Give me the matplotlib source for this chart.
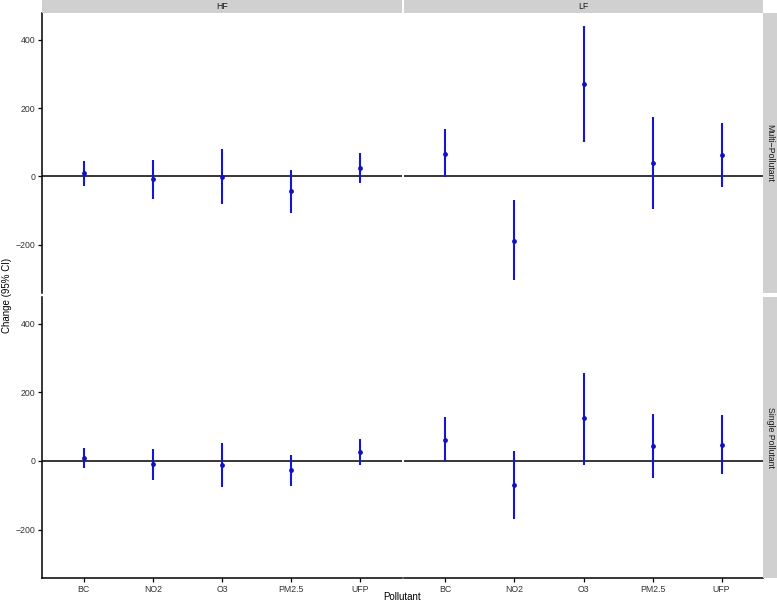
import matplotlib
matplotlib.use("Agg")
import matplotlib.pyplot as plt
import numpy as np

plt.rcParams['font.family'] = ['Liberation Sans', 'DejaVu Sans']

pollutants = ["BC", "NO2", "O3", "PM2.5", "UFP"]
cols = ["HF", "LF"]
rows = ["Multi\u2212Pollutant", "Single Pollutant"]

# Multi-pollutant
multi_hf_est = [10, -9, -2, -44, 25]
multi_hf_lo = [-27, -65, -82, -107, -18]
multi_hf_hi = [44, 48, 80, 20, 68]
multi_lf_est = [67, -188, 271, 39, 62]
multi_lf_lo = [-3, -304, 100, -96, -31]
multi_lf_hi = [139, -68, 441, 174, 155]
# Single pollutant
single_hf_est = [9, -10, -12, -27, 27]
single_hf_lo = [-20, -55, -75, -72, -12]
single_hf_hi = [37, 35, 52, 17, 64]
single_lf_est = [62, -71, 125, 45, 47]
single_lf_lo = [0, -170, -12, -50, -38]
single_lf_hi = [127, 28, 258, 138, 133]

data = {
    (0, 0): (multi_hf_est, multi_hf_lo, multi_hf_hi),
    (0, 1): (multi_lf_est, multi_lf_lo, multi_lf_hi),
    (1, 0): (single_hf_est, single_hf_lo, single_hf_hi),
    (1, 1): (single_lf_est, single_lf_lo, single_lf_hi),
}

W, H = 777, 602
fig = plt.figure(figsize=(W / 100, H / 100), dpi=100)

def px(x0, y0, x1, y1):
    return [x0 / W, 1 - y1 / H, (x1 - x0) / W, (y1 - y0) / H]

col_x = [(42, 402), (404, 763)]
row_y = [(13, 293), (297, 578)]

allv = multi_lf_lo + multi_lf_hi + multi_hf_lo + multi_hf_hi + single_lf_lo + single_lf_hi + single_hf_lo + single_hf_hi
vmin, vmax = min(allv), max(allv)
pad = 0.05 * (vmax - vmin)
ylim = (vmin - pad, vmax + pad)

blue = "#1515d6"
for (r, c), (est, lo, hi) in data.items():
    x0, x1 = col_x[c]
    y0, y1 = row_y[r]
    ax = fig.add_axes(px(x0, y0, x1, y1))
    xs = np.arange(len(pollutants))
    ax.axhline(0, color="black", lw=1.1, zorder=1)
    ax.vlines(xs, lo, hi, color=blue, lw=1.5, zorder=2)
    ax.scatter(xs, est, color="#1010c0", s=12, zorder=3, linewidths=0)
    ax.set_xlim(-0.6, len(pollutants) - 0.4)
    ax.set_ylim(*ylim)
    for s in ["top", "right"]:
        ax.spines[s].set_visible(False)
    ax.spines["left"].set_visible(c == 0)
    ax.spines["bottom"].set_visible(r == 1)
    for s in ["left", "bottom"]:
        ax.spines[s].set_linewidth(1.1)
    ax.set_yticks([-200, 0, 200, 400])
    ax.set_xticks(xs)
    ax.tick_params(axis="both", direction="out", length=3, width=0.9,
                   labelsize=6.3, labelcolor="#333333", pad=2)
    if c == 0:
        ax.set_yticklabels(["\u2212200", "0", "200", "400"])
    else:
        ax.tick_params(axis="y", left=False, labelleft=False)
    if r == 1:
        ax.set_xticklabels(pollutants)
    else:
        ax.tick_params(axis="x", bottom=False, labelbottom=False)

    # strips
    if r == 0:
        sax = fig.add_axes(px(x0, 0, x1, 13))
        sax.set_facecolor("#d0d0d0")
        sax.set_xticks([]); sax.set_yticks([])
        for s in sax.spines.values():
            s.set_visible(False)
        sax.text(0.5, 0.5, cols[c], ha="center", va="center", fontsize=6.3,
                 color="#1a1a1a", transform=sax.transAxes)
    if c == 1:
        sax = fig.add_axes(px(763, y0, 777, y1))
        sax.set_facecolor("#d0d0d0")
        sax.set_xticks([]); sax.set_yticks([])
        for s in sax.spines.values():
            s.set_visible(False)
        sax.text(0.5, 0.5, rows[r], ha="center", va="center", fontsize=6.3,
                 color="#1a1a1a", rotation=-90, transform=sax.transAxes)

fig.text(7 / W, 1 - 295 / H, "Change (95% CI)", rotation=90, ha="center",
         va="center", fontsize=7, color="black")
fig.text(402 / W, 1 - 597 / H, "Pollutant", ha="center", va="center",
         fontsize=7, color="black")

fig.savefig("out.png", dpi=100)
